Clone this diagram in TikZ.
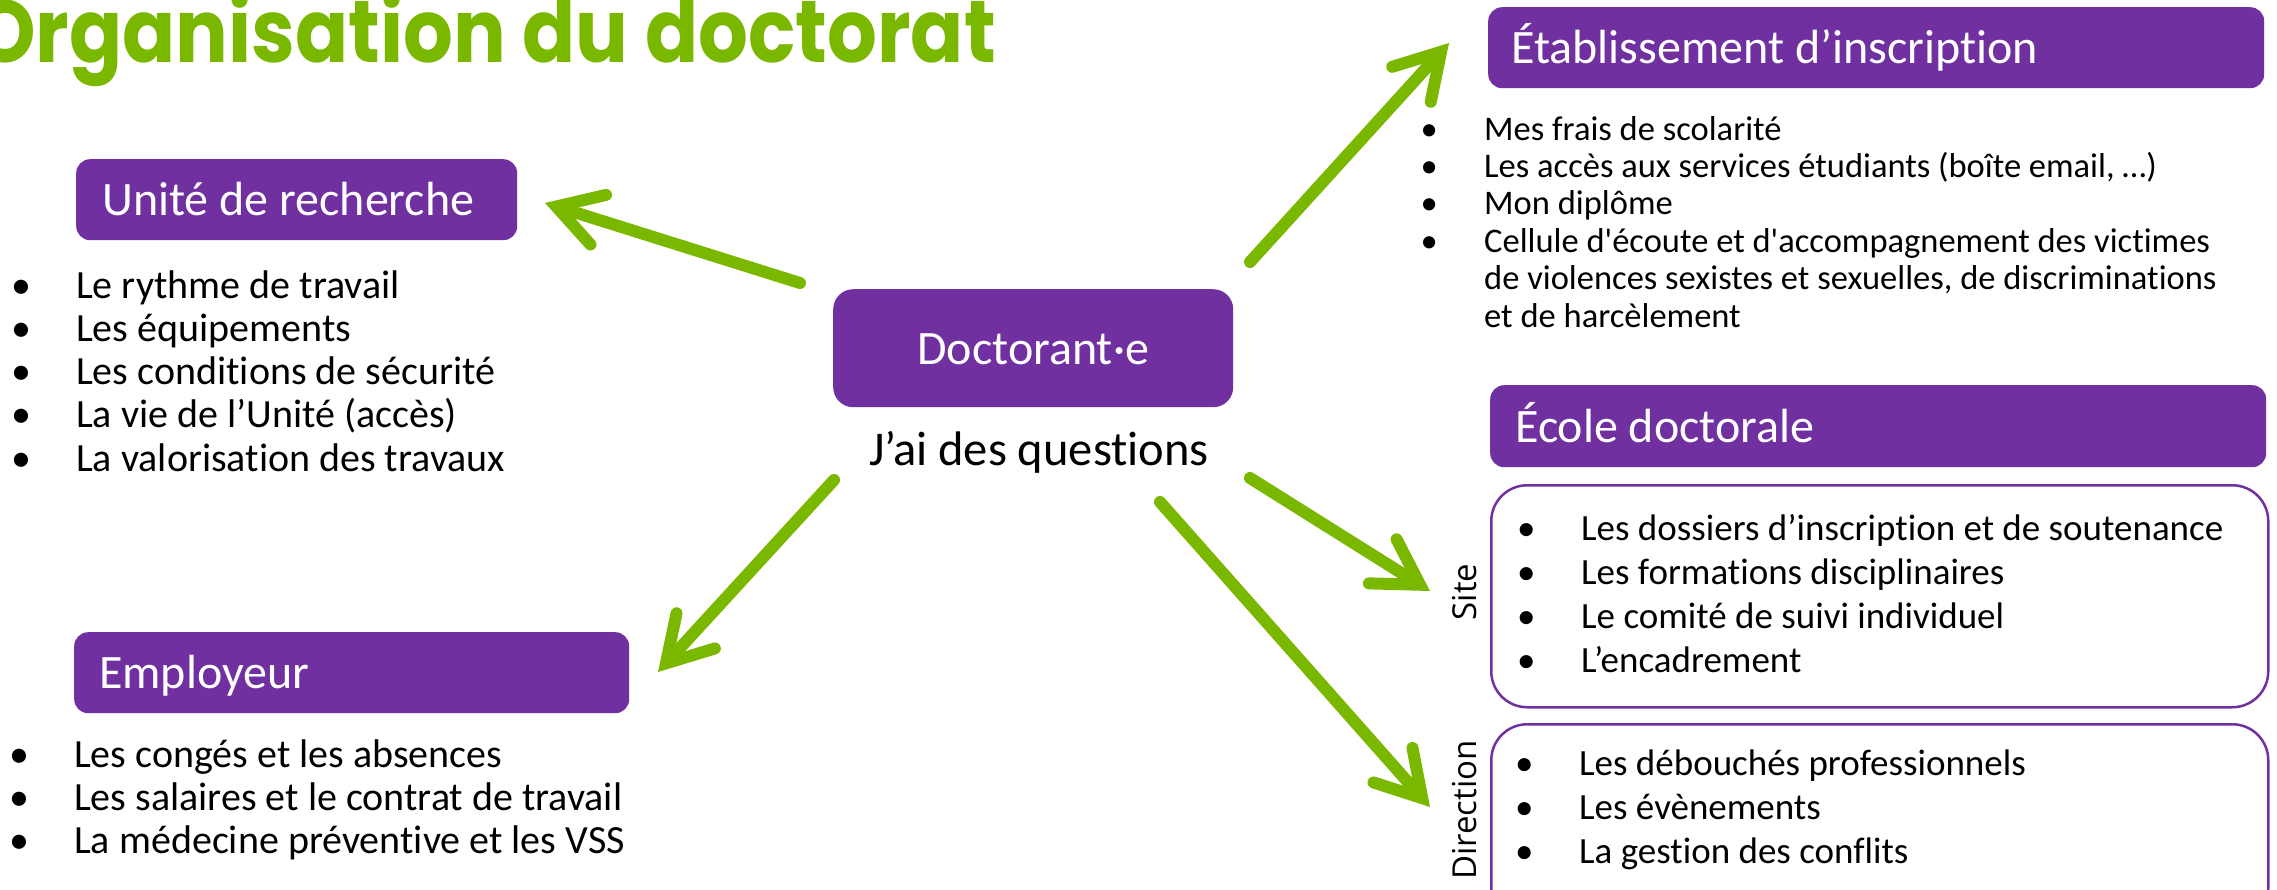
\documentclass[tikz,border=0pt]{standalone}
\usepackage{fontspec}
\setmainfont{Carlito}[Ligatures={TeX,NoCommon}]
\newfontfamily\titrefont[FakeStretch=0.89]{Poppins}
\newfontfamily\cotefont{Open Sans}
\usepackage{tikz}
\usetikzlibrary{arrows.meta}

\definecolor{violetud}{RGB}{112,48,160}
\definecolor{vertud}{RGB}{122,184,0}

\newcommand{\puce}{\llap{\makebox[110pt]{•}}}

\begin{document}
\begin{tikzpicture}[x=1pt, y=-1pt,
    cadre/.style={fill=violetud, rounded corners=14pt, text=white, anchor=north west, align=flush left,
      font=\fontsize{48}{57}\selectfont, inner ysep=0pt, text height=34pt, text depth=2pt},
    cadreligne/.style={draw=violetud, line width=2.5pt, rounded corners=36pt, anchor=north west, inner sep=0pt},
    item/.style={anchor=base west, inner sep=0pt, font=\fontsize{37}{44}\selectfont},
    grositem/.style={anchor=base west, inner sep=0pt, font=\fontsize{40}{44}\selectfont},
    petititem/.style={anchor=base west, inner sep=0pt, font=\fontsize{34.5}{38}\selectfont},
    cote/.style={rotate=90, inner sep=0pt, font=\cotefont\fontsize{33}{40}\selectfont},
    fleche/.style={draw=vertud, line width=12pt, line cap=round,
      -{Straight Barb[length=44pt, width=52pt, line cap=round]}}]

        \useasboundingbox (0,0) rectangle (2277,889);
        \clip (0,0) rectangle (2277,889);

        % Title
        \draw (996,62) node(titre) [anchor=base east, inner sep=0pt, text=vertud,
          font=\titrefont\bfseries\fontsize{88}{100}\selectfont] {Organisation du doctorat};

        % Boxes
        \draw (833,289) node(doct) [cadre, align=center, rounded corners=20pt, minimum width=400pt,
          minimum height=118pt, text width=380pt, inner xsep=10pt] {Doctorant·e};
        \draw (1039,465) node(quest) [anchor=base, inner sep=0pt, font=\fontsize{48.5}{58}\selectfont] {J’ai des questions};

        \draw (76,159) node(unite) [cadre, minimum width=441pt, minimum height=81pt,
          text width=389pt, inner xsep=26pt] {Unité de recherche};
        \draw (74,632) node(empl) [cadre, minimum width=555pt, minimum height=81pt,
          text width=505pt, inner xsep=25pt] {Employeur};
        \draw (1488,7) node(etab) [cadre, minimum width=776pt, minimum height=81pt,
          text width=730pt, inner xsep=23pt] {Établissement d’inscription};
        \draw (1490,385) node(ecole) [cadre, minimum width=776pt, minimum height=82pt,
          text width=726pt, inner xsep=25pt] {École doctorale};

        \draw (1490,484) node(sitebox) [cadreligne, minimum width=777pt, minimum height=222pt] {};
        \draw (1490,723) node(dirbox) [cadreligne, minimum width=777pt, minimum height=200pt] {};
        \draw (1465,592) node(site) [cote] {Site};
        \draw (1465,810) node(dir) [cote] {Direction};

        % Lists
        \foreach \t [count=\i] in {Le rythme de travail, Les équipements, Les conditions de sécurité,
            La vie de l’Unité (accès), La valorisation des travaux}
          \draw (76,{298+43.3*(\i-1)}) node(u\i) [grositem] {\puce\t};
        \foreach \t [count=\i] in {Les congés et les absences, Les salaires et le contrat de travail,
            La médecine préventive et les VSS}
          \draw (74,{767+43*(\i-1)}) node(e\i) [grositem] {\puce\t};
        \foreach \t [count=\i] in {\puce Mes frais de scolarité,
            {\puce Les accès aux services étudiants (boîte email, …)}, \puce Mon diplôme,
            \puce Cellule d\textquotesingle écoute et d\textquotesingle accompagnement des victimes,
            {de violences sexistes et sexuelles, de discriminations}, et de harcèlement}
          \draw (1484,{140+37.4*(\i-1)}) node(i\i) [petititem] {\t};
        \foreach \t [count=\i] in {Les dossiers d’inscription et de soutenance, Les formations disciplinaires,
            Le comité de suivi individuel, L’encadrement}
          \draw (1581,{540+44.3*(\i-1)}) node(s\i) [item] {\puce\t};
        \foreach \t [count=\i] in {Les débouchés professionnels, Les évènements, La gestion des conflits}
          \draw (1579,{775+44*(\i-1)}) node(d\i) [item] {\puce\t};

        % Arrows
        \coordinate (uDep) at (800,283);  \coordinate (uArr) at (545,203);
        \coordinate (iDep) at (1250,262); \coordinate (iArr) at (1449,43);
        \coordinate (eDep) at (834,480);  \coordinate (eArr) at (658,672);
        \coordinate (sDep) at (1250,478); \coordinate (sArr) at (1430,591);
        \coordinate (dDep) at (1160,502); \coordinate (dArr) at (1430,807);

        \draw[fleche] (uDep) -- (uArr);
        \draw[fleche] (iDep) -- (iArr);
        \draw[fleche] (eDep) -- (eArr);
        \draw[fleche] (sDep) -- (sArr);
        \draw[fleche] (dDep) -- (dArr);

\end{tikzpicture}
\end{document}
